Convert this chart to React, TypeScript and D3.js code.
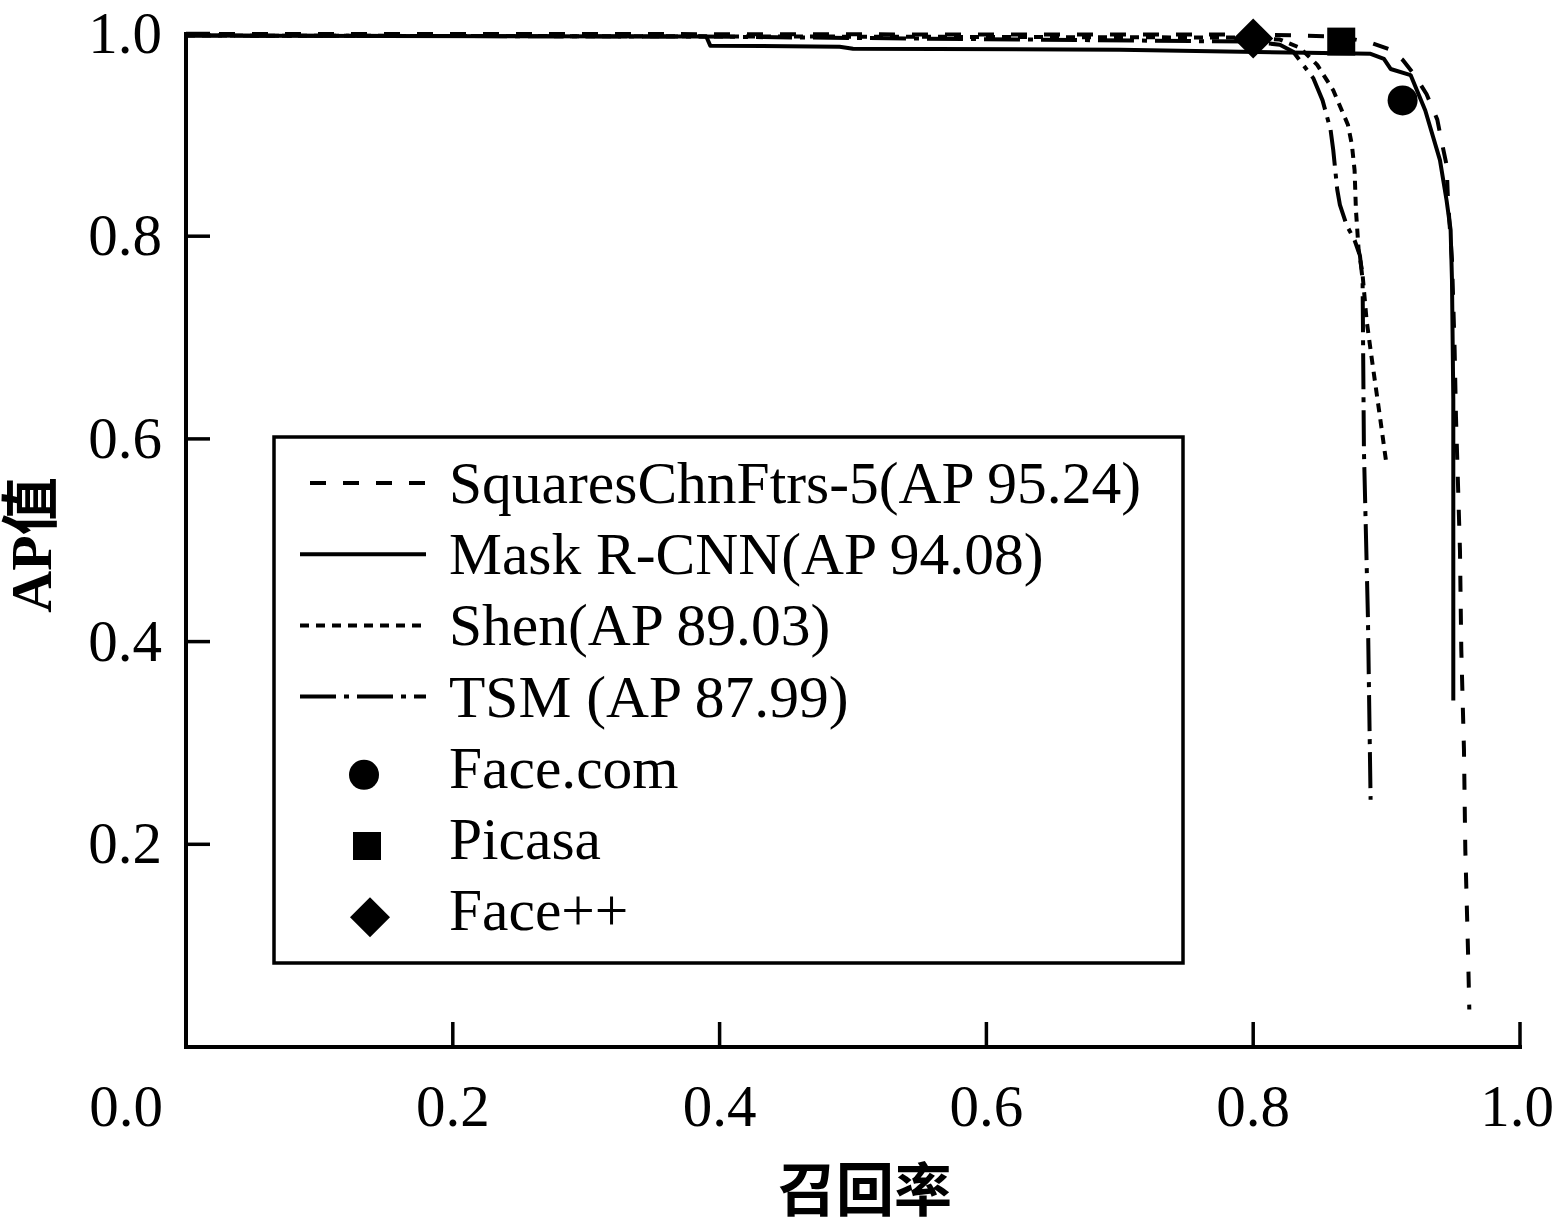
import React from "react";
import * as d3 from "d3";

const xTicks = [0.2, 0.4, 0.6, 0.8, 1.0];
const yTicks = [0.2, 0.4, 0.6, 0.8, 1.0];
const tickLabels = ["0.2", "0.4", "0.6", "0.8", "1.0"];

const squaresX = [0, 0.31, 0.61, 0.798, 0.835, 0.865, 0.888, 0.903, 0.912, 0.921, 0.93, 0.938, 0.941, 0.945, 0.946, 0.949, 0.951, 0.952, 0.955, 0.956, 0.958, 0.959, 0.961, 0.962];
const squaresY = [0.9995, 0.9995, 0.999, 0.999, 0.998, 0.997, 0.991, 0.984, 0.974, 0.959, 0.94, 0.915, 0.895, 0.87, 0.836, 0.777, 0.688, 0.622, 0.49, 0.392, 0.293, 0.195, 0.096, 0.037];

const maskX = [0, 0.39, 0.393, 0.49, 0.5, 0.7, 0.84, 0.888, 0.898, 0.903, 0.918, 0.929, 0.94, 0.945, 0.948, 0.949, 0.95, 0.95, 0.95];
const maskY = [0.998, 0.997, 0.988, 0.987, 0.985, 0.984, 0.981, 0.98, 0.975, 0.965, 0.959, 0.924, 0.875, 0.835, 0.806, 0.757, 0.639, 0.49, 0.342];

const shenX = [0, 0.46, 0.798, 0.82, 0.835, 0.848, 0.86, 0.871, 0.874, 0.876, 0.877, 0.879, 0.882, 0.885, 0.889, 0.895, 0.9];
const shenY = [0.998, 0.997, 0.996, 0.994, 0.986, 0.969, 0.944, 0.91, 0.89, 0.865, 0.826, 0.787, 0.762, 0.717, 0.678, 0.622, 0.574];

const tsmX = [0, 0.385, 0.798, 0.82, 0.83, 0.845, 0.852, 0.858, 0.86, 0.863, 0.865, 0.87, 0.876, 0.88, 0.882, 0.883, 0.886, 0.888];
const tsmY = [0.998, 0.997, 0.992, 0.989, 0.982, 0.956, 0.934, 0.905, 0.885, 0.846, 0.831, 0.811, 0.796, 0.781, 0.757, 0.589, 0.424, 0.244];

const seriesNames = ["SquaresChnFtrs-5(AP 95.24)", "Mask R-CNN(AP 94.08)", "Shen(AP 89.03)", "TSM (AP 87.99)"];
const seriesDash = ["16,17", "none", "9,7", "36,8,5,8"];

const markerNames = ["Face.com", "Picasa", "Face++"];
const markerX = [0.912, 0.866, 0.8];
const markerY = [0.934, 0.992, 0.995];
const markerShapes = ["circle", "square", "diamond"];

const FONT = "'Liberation Serif', 'Times New Roman', serif";

function Marker({ shape, x, y }: { shape: string; x: number; y: number }) {
  if (shape === "circle") return <circle cx={x} cy={y} r={15} fill="#000" />;
  if (shape === "square") return <rect x={x - 14} y={y - 14} width={28} height={28} fill="#000" />;
  return <path d={`M${x},${y - 20}L${x + 20},${y}L${x},${y + 20}L${x - 20},${y}Z`} fill="#000" />;
}

export default function App() {
  const W = 1554, H = 1227;
  const x = d3.scaleLinear().domain([0, 1]).range([186, 1520]);
  const y = d3.scaleLinear().domain([0, 1]).range([1047, 33.5]);
  const line = d3.line<[number, number]>().x((d) => x(d[0])).y((d) => y(d[1]));

  const series = [
    { xs: squaresX, ys: squaresY },
    { xs: maskX, ys: maskY },
    { xs: shenX, ys: shenY },
    { xs: tsmX, ys: tsmY },
  ];

  const legendX = 274, legendY = 437, legendW = 909, legendH = 526;
  const rowH = 71.2;
  const firstBase = 503;

  return (
    <svg width={W} height={H} style={{ position: "absolute", left: 0, top: 0, background: "#fff" }}>
      <rect x={0} y={0} width={W} height={H} fill="#fff" />
      {series.map((s, i) => (
        <path
          key={i}
          d={line(s.xs.map((v, j) => [v, s.ys[j]] as [number, number])) || ""}
          fill="none"
          stroke="#000"
          strokeWidth={4}
          strokeDasharray={seriesDash[i] === "none" ? undefined : seriesDash[i]}
          strokeLinejoin="round"
        />
      ))}
      {markerNames.map((n, i) => (
        <Marker key={n} shape={markerShapes[i]} x={x(markerX[i])} y={y(markerY[i])} />
      ))}
      <line x1={x(0)} y1={y(1) - 1.5} x2={x(0)} y2={y(0) + 2} stroke="#000" strokeWidth={4} />
      <line x1={x(0) - 2} y1={y(0)} x2={x(1) + 2} y2={y(0)} stroke="#000" strokeWidth={4} />
      {xTicks.map((t) => (
        <line key={"xt" + t} x1={x(t)} x2={x(t)} y1={y(0)} y2={y(0) - 25} stroke="#000" strokeWidth={3.5} />
      ))}
      {yTicks.map((t) => (
        <line key={"yt" + t} x1={x(0)} x2={x(0) + 24} y1={y(t)} y2={y(t)} stroke="#000" strokeWidth={3.5} />
      ))}
      {xTicks.map((t, i) => (
        <text key={"xl" + t} x={t === 1 ? x(t) - 3 : x(t)} y={1126} textAnchor="middle" fontFamily={FONT} fontSize={59} fill="#000">
          {tickLabels[i]}
        </text>
      ))}
      <text x={126} y={1126} textAnchor="middle" fontFamily={FONT} fontSize={59} fill="#000">0.0</text>
      {yTicks.map((t, i) => (
        <text key={"yl" + t} x={162} y={y(t) + 19} textAnchor="end" fontFamily={FONT} fontSize={59} fill="#000">
          {tickLabels[i]}
        </text>
      ))}
      <text x={865} y={1211} textAnchor="middle" fontFamily={`${FONT}, 'Noto Sans CJK SC'`} fontSize={58} fontWeight="bold" fill="#000">
        召回率
      </text>
      <text
        transform={`translate(51,545) rotate(-90)`}
        textAnchor="middle"
        fontFamily={`${FONT}, 'Noto Sans CJK SC'`}
        fontSize={58}
        fontWeight="bold"
        fill="#000"
      >
        AP值
      </text>
      <rect x={legendX} y={legendY} width={legendW} height={legendH} fill="#fff" stroke="#000" strokeWidth={3.5} />
      {seriesNames.map((n, i) => {
        const b = firstBase + i * rowH;
        return (
          <g key={n}>
            <line
              x1={300}
              x2={426}
              y1={b - 20}
              y2={b - 20}
              stroke="#000"
              strokeWidth={4}
              strokeDasharray={seriesDash[i] === "none" ? undefined : seriesDash[i]}
              strokeDashoffset={i === 0 ? -10 : 0}
            />
            <text x={449} y={b} fontFamily={FONT} fontSize={59.5} fill="#000">{n}</text>
          </g>
        );
      })}
      {markerNames.map((n, i) => {
        const b = firstBase + (i + 4) * rowH;
        return (
          <g key={n}>
            <Marker shape={markerShapes[i]} x={364 + i * 3} y={b - 13} />
            <text x={449} y={b} fontFamily={FONT} fontSize={59.5} fill="#000">{n}</text>
          </g>
        );
      })}
    </svg>
  );
}
